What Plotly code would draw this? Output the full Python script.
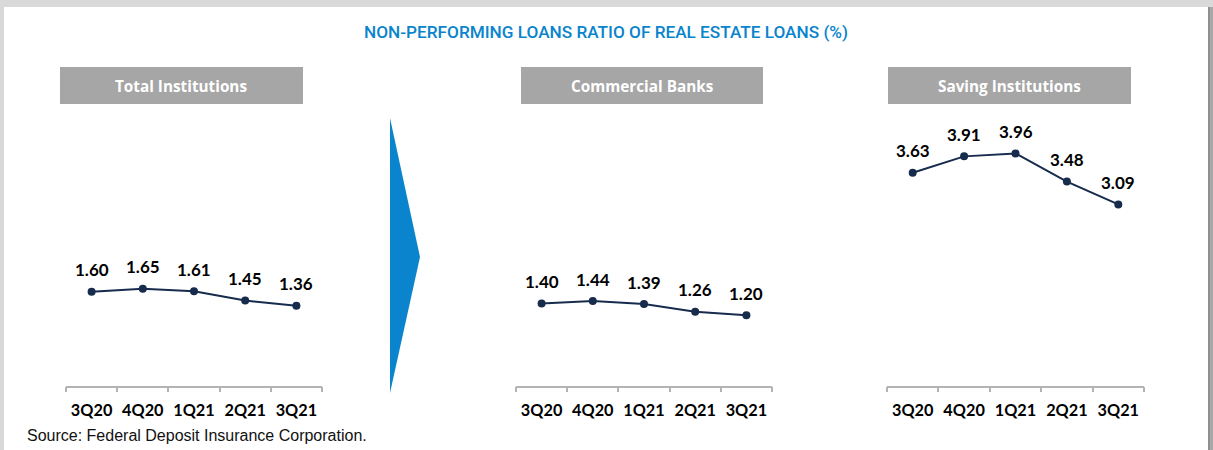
import plotly.graph_objects as go

W, H = 1213, 450

quarters = ["3Q20", "4Q20", "1Q21", "2Q21", "3Q21"]
total_institutions = [1.60, 1.65, 1.61, 1.45, 1.36]
commercial_banks = [1.40, 1.44, 1.39, 1.26, 1.20]
saving_institutions = [3.63, 3.91, 3.96, 3.48, 3.09]
panel_titles = ["Total Institutions", "Commercial Banks", "Saving Institutions"]
series = [total_institutions, commercial_banks, saving_institutions]

title_text = "NON-PERFORMING LOANS RATIO OF REAL ESTATE LOANS (%)"
source_text = "Source: Federal Deposit Insurance Corporation."

LINE = "#172b4d"
BLUE = "#0a84cc"
AXIS = "#b3b3b3"


def px(x):
    return x / W


def py(y):
    return 1 - y / H


# horizontal pixel extents of each panel's plotting area
panel_x = [(66, 322), (516, 772), (887, 1144)]
# header box extents
box_x = [(60, 303), (521, 763), (888, 1131)]

y_bottom, y_top = 385.5, 110
y_max = (y_bottom - y_top) / 58.6

fig = go.Figure()
layout = dict(
    width=W, height=H,
    margin=dict(l=0, r=0, t=0, b=0),
    paper_bgcolor="#d9d9d9",
    plot_bgcolor="rgba(0,0,0,0)",
    showlegend=False,
)

shapes = [
    # white card with a darker shadow strip at the right edge
    dict(type="rect", xref="paper", yref="paper", x0=px(4), x1=px(1208), y0=py(450), y1=py(7),
         fillcolor="white", line_width=0, layer="below"),
    dict(type="rect", xref="paper", yref="paper", x0=px(1208), x1=px(1210.5), y0=py(450), y1=py(7),
         fillcolor="#8f8f8f", line_width=0, layer="below"),
    dict(type="rect", xref="paper", yref="paper", x0=px(1210.5), x1=px(1213), y0=py(450), y1=py(7),
         fillcolor="#a8a8a8", line_width=0, layer="below"),
    # blue chevron between the first two panels
    dict(type="path", xref="paper", yref="paper",
         path=f"M {px(390)},{py(118)} L {px(420)},{py(257)} L {px(390)},{py(393)} Z",
         fillcolor=BLUE, line_width=0),
]

annotations = [
    dict(text=title_text, xref="paper", yref="paper", x=px(606), y=py(32),
         showarrow=False, xanchor="center", yanchor="middle",
         font=dict(family="Roboto", size=17.2, color=BLUE, weight=500)),
    dict(text=source_text, xref="paper", yref="paper", x=px(25), y=py(435),
         showarrow=False, xanchor="left", yanchor="middle",
         font=dict(family="Liberation Sans, Arial", size=16, color="#111111")),
]

for i, (vals, name) in enumerate(zip(series, panel_titles)):
    k = "" if i == 0 else str(i + 1)
    x0, x1 = panel_x[i]
    bx0, bx1 = box_x[i]
    shapes.append(dict(type="rect", xref="paper", yref="paper", x0=px(bx0), x1=px(bx1),
                       y0=py(104), y1=py(67), fillcolor="#a6a6a6", line_width=0))
    annotations.append(dict(text=name, xref="paper", yref="paper", x=px((bx0 + bx1) / 2), y=py(86),
                            showarrow=False, xanchor="center", yanchor="middle",
                            font=dict(family="Open Sans", size=15.3, color="white", weight="bold")))
    fig.add_trace(go.Scatter(
        x=quarters, y=vals, mode="lines+markers",
        line=dict(color=LINE, width=2), marker=dict(color=LINE, size=8),
        xaxis="x" + k, yaxis="y" + k, hoverinfo="skip",
    ))
    for q, v in zip(quarters, vals):
        annotations.append(dict(text=f"{v:.2f}", x=q, y=v, xref="x" + k, yref="y" + k,
                                showarrow=False, yshift=22, xanchor="center", yanchor="middle",
                                font=dict(family="Lato", size=17, color="black", weight="bold")))
    layout["xaxis" + k] = dict(
        domain=[px(x0), px(x1)], anchor="y" + k, type="category", range=[-0.5, 4.5],
        showline=True, linecolor=AXIS, linewidth=1.5, ticks="outside", tickson="boundaries",
        ticklen=5, tickcolor=AXIS, tickwidth=1.5, showgrid=False, zeroline=False,
        ticklabelstandoff=9, tickangle=0,
        tickfont=dict(family="Lato", size=16.3, color="black", weight="bold"),
        fixedrange=True,
    )
    layout["yaxis" + k] = dict(
        domain=[py(y_bottom), py(y_top)], anchor="x" + k, range=[0, y_max],
        visible=False, fixedrange=True,
    )

layout["shapes"] = shapes
layout["annotations"] = annotations
fig.update_layout(**layout)
fig.write_html("out.html")
